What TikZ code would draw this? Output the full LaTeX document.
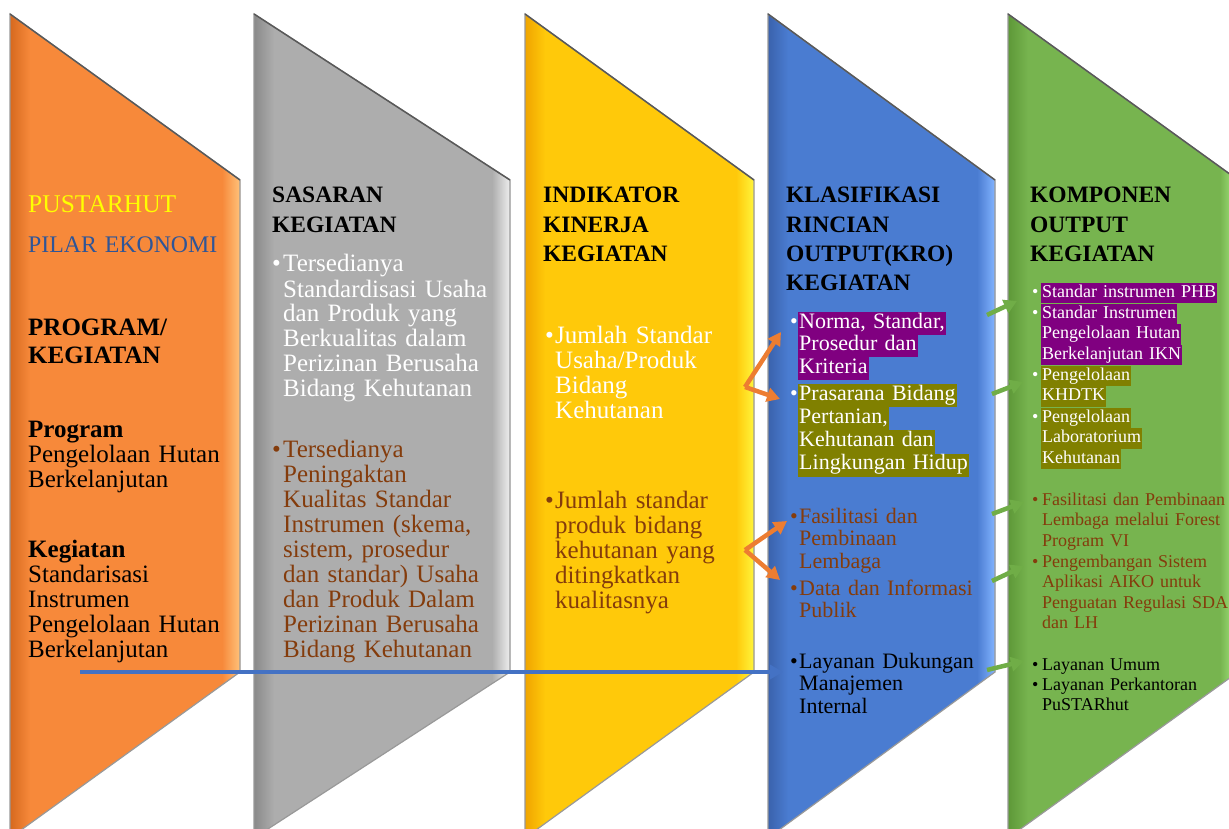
\documentclass[tikz,border=0pt]{standalone}
\usepackage{fontspec}
\setmainfont{Liberation Serif}
\usepackage{xcolor}
\usetikzlibrary{arrows.meta}

\definecolor{orbase}{HTML}{F7893A}
\definecolor{ordark}{HTML}{D6691F}
\definecolor{orlight}{HTML}{FFC27A}
\definecolor{grbase}{HTML}{ADADAD}
\definecolor{grdark}{HTML}{8A8A8A}
\definecolor{grlight}{HTML}{EEEEEE}
\definecolor{yebase}{HTML}{FFC90A}
\definecolor{yedark}{HTML}{F0A400}
\definecolor{yelight}{HTML}{FFF53C}
\definecolor{blbase}{HTML}{4A7CD1}
\definecolor{bldark}{HTML}{3A62AC}
\definecolor{bllight}{HTML}{82B3FF}
\definecolor{gnbase}{HTML}{77B44F}
\definecolor{gndark}{HTML}{5E9838}
\definecolor{gnlight}{HTML}{AAEC86}
\definecolor{pustar}{HTML}{FFFF00}
\definecolor{pilar}{HTML}{2F5597}
\definecolor{coklat}{HTML}{843C0C}
\definecolor{hlpurple}{HTML}{800080}
\definecolor{hlolive}{HTML}{808000}
\definecolor{arrorange}{HTML}{ED7D31}
\definecolor{arrgreen}{HTML}{70AD47}
\definecolor{arrblue}{HTML}{4472C4}

\newcommand{\bul}[2]{\makebox[#1][l]{\textbullet}\parbox[t]{250pt}{#2}}
\newcommand{\hlp}[1]{{\setlength{\fboxsep}{0pt}\colorbox{hlpurple}{\strut\kern1pt #1\kern1pt}}}
\newcommand{\hlo}[1]{{\setlength{\fboxsep}{0pt}\colorbox{hlolive}{\strut\kern1pt #1\kern1pt}}}

\tikzset{
  txt/.style={anchor=base west, inner sep=0pt, align=left, text width=270pt},
  judul/.style={txt, font=\fontsize{23.5}{29.3}\selectfont\bfseries},
  isi/.style={txt, font=\fontsize{25}{25}\selectfont},
  isikro/.style={txt, font=\fontsize{22}{22.5}\selectfont},
  isikomp/.style={txt, font=\fontsize{18}{20.5}\selectfont},
  panah/.style={-{Triangle[length=13pt,width=14pt]}, line width=4.5pt},
}

\begin{document}
\begin{tikzpicture}[x=1pt,y=-1pt]
                    \useasboundingbox (0,0) rectangle (1229,829);
                    \fill[white] (0,0) rectangle (1229,829);

                    \foreach \xa/\xb/\cb/\cd/\cl in {10/240/orbase/ordark/orlight, 254/510/grbase/grdark/grlight,
                        525/754/yebase/yedark/yelight, 768/995/blbase/bldark/bllight, 1008/1238/gnbase/gndark/gnlight} {
                        \fill[\cb] (\xa,14) -- (\xb,180) -- (\xb,672) -- (\xa,838) -- cycle;
                        \begin{scope}
                            \clip (\xa,14) -- (\xb,180) -- (\xb,672) -- (\xa,838) -- cycle;
                            \shade[left color=\cd, right color=\cb] (\xa,0) rectangle ({\xa+20},840);
                            \shade[left color=\cb, right color=\cl] ({\xb-18},0) rectangle (\xb,840);
                        \end{scope}
                        \draw[black!40, line width=1.2pt] (\xa,14) -- (\xb,180) -- (\xb,672) -- (\xa,838) -- cycle;
                        \draw[black!65, line width=1.5pt] (\xa,14) -- (\xb,180);
                    }

                    \node[isi, font=\fontsize{25.5}{25.5}\selectfont, color=pustar] (pustarhut) at (28,213) {PUSTARHUT};
                    \node[isi, font=\fontsize{23.8}{23.8}\selectfont, color=pilar] (pilarEko) at (28,252) {PILAR EKONOMI};
                    \node[judul, font=\fontsize{25}{28}\selectfont\bfseries] (progKeg) at (28,335) {PROGRAM/\\KEGIATAN};
                    \node[isi] (program) at (28,437) {\textbf{Program}\\Pengelolaan Hutan\\Berkelanjutan};
                    \node[isi] (kegiatan) at (28,557) {\textbf{Kegiatan}\\Standarisasi\\Instrumen\\Pengelolaan Hutan\\Berkelanjutan};

                    \node[judul] (sasaran) at (272,203) {SASARAN\\KEGIATAN};
                    \node[isi, color=white] (sasA) at (272,272) {\bul{11pt}{Tersedianya\\Standardisasi Usaha\\dan Produk yang\\Berkualitas dalam\\Perizinan Berusaha\\Bidang Kehutanan}};
                    \node[isi, color=coklat] (sasB) at (272,457) {\bul{11pt}{Tersedianya\\Peningaktan\\Kualitas Standar\\Instrumen (skema,\\sistem, prosedur\\dan standar) Usaha\\dan Produk Dalam\\Perizinan Berusaha\\Bidang Kehutanan}};

                    \node[judul] (indikator) at (543,203) {INDIKATOR\\KINERJA\\KEGIATAN};
                    \node[isi, color=white] (ikkA) at (545,343) {\bul{10pt}{Jumlah Standar\\Usaha/Produk\\Bidang\\Kehutanan}};
                    \node[isi, color=coklat] (ikkB) at (545,508) {\bul{10pt}{Jumlah standar\\produk bidang\\kehutanan yang\\ditingkatkan\\kualitasnya}};

                    \node[judul] (klasifikasi) at (786,203) {KLASIFIKASI\\RINCIAN\\OUTPUT(KRO)\\KEGIATAN};
                    \node[isikro, color=white] (kroNorma) at (790,328) {\bul{8pt}{\hlp{Norma, Standar,}\\\hlp{Prosedur dan}\\\hlp{Kriteria}}};
                    \node[isikro, color=white, font=\fontsize{22}{23.3}\selectfont] (kroPrasarana) at (790,400) {\bul{8pt}{\hlo{Prasarana Bidang}\\\hlo{Pertanian,}\\\hlo{Kehutanan dan}\\\hlo{Lingkungan Hidup}}};
                    \node[isikro, color=coklat] (kroFasilitasi) at (790,523) {\bul{9pt}{Fasilitasi dan\\Pembinaan\\Lembaga}};
                    \node[isikro, color=coklat] (kroData) at (790,595) {\bul{9pt}{Data dan Informasi\\Publik}};
                    \node[isikro, color=black] (kroLayanan) at (790,668) {\bul{9pt}{Layanan Dukungan\\Manajemen\\Internal}};

                    \node[judul] (komponen) at (1030,203) {KOMPONEN\\OUTPUT\\KEGIATAN};
                    \node[isikomp, color=white] (kompPHB) at (1032,297) {\bul{9pt}{\hlp{Standar instrumen PHB}}};
                    \node[isikomp, color=white] (kompIKN) at (1032,318) {\bul{9pt}{\hlp{Standar Instrumen}\\\hlp{Pengelolaan Hutan}\\\hlp{Berkelanjutan IKN}}};
                    \node[isikomp, color=white] (kompKHDTK) at (1032,380) {\bul{9pt}{\hlo{Pengelolaan}\\\hlo{KHDTK}}};
                    \node[isikomp, color=white] (kompLab) at (1032,422) {\bul{9pt}{\hlo{Pengelolaan}\\\hlo{Laboratorium}\\\hlo{Kehutanan}}};
                    \node[isikomp, color=coklat] (kompForest) at (1032,505) {\bul{10pt}{Fasilitasi dan Pembinaan\\Lembaga melalui Forest\\Program VI}};
                    \node[isikomp, color=coklat] (kompAiko) at (1032,567) {\bul{10pt}{Pengembangan Sistem\\Aplikasi AIKO untuk\\Penguatan Regulasi SDA\\dan LH}};
                    \node[isikomp, color=black] (kompUmum) at (1032,670) {\bul{10pt}{Layanan Umum}};
                    \node[isikomp, color=black] (kompKantor) at (1032,690) {\bul{10pt}{Layanan Perkantoran\\PuSTARhut}};

                    \coordinate (kegEnd) at (80,672);
                    \coordinate (layEnd) at (783,672);
                    \coordinate (ikkAtip) at (745,387);
                    \coordinate (normaTip) at (781,332);
                    \coordinate (prasTip) at (780,399);
                    \coordinate (ikkBtip) at (745,550);
                    \coordinate (fasTip) at (787,521);
                    \coordinate (dataTip) at (780,580);
                    \draw[panah, line width=3.5pt, color=arrblue] (kegEnd) -- (layEnd);
                    \draw[panah, color=arrorange] (ikkAtip) -- (normaTip);
                    \draw[panah, color=arrorange] (ikkAtip) -- (prasTip);
                    \draw[panah, color=arrorange] (ikkBtip) -- (fasTip);
                    \draw[panah, color=arrorange] (ikkBtip) -- (dataTip);

                    \coordinate (g1a) at (987,315);  \coordinate (g1b) at (1017,301);
                    \coordinate (g2a) at (992,394);  \coordinate (g2b) at (1023,382);
                    \coordinate (g3a) at (992,514);  \coordinate (g3b) at (1024,502);
                    \coordinate (g4a) at (992,581);  \coordinate (g4b) at (1024,566);
                    \coordinate (g5a) at (987,670);  \coordinate (g5b) at (1024,661);
                    \foreach \g in {1,...,5} {
                        \draw[panah, color=arrgreen] (g\g a) -- (g\g b);
                    }
\end{tikzpicture}
\end{document}
